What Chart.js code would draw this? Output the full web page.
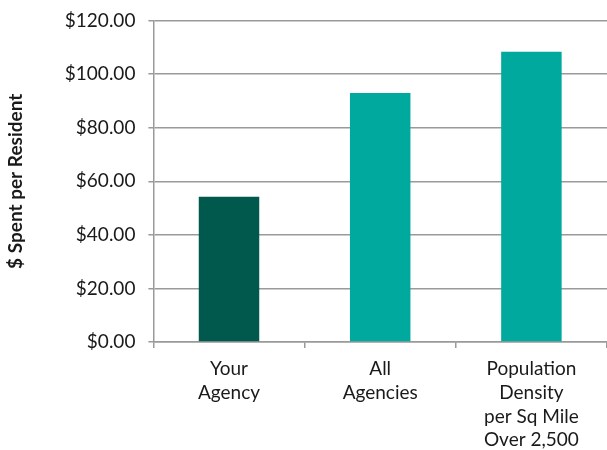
<!DOCTYPE html>
<html><head><meta charset="utf-8">
<script src="https://cdn.jsdelivr.net/npm/chart.js@4"></script>
<style>html,body{margin:0;padding:0;background:#fff}#wrap{width:607px;height:450px}</style>
</head><body><div id="wrap"><canvas id="c" width="607" height="450"></canvas></div>
<script>
const categories = [["Your","Agency"],["All","Agencies"],["Population","Density","per Sq Mile","Over 2,500"]];
const values = [54.2, 93.0, 108.4];
const barColors = ["#00594C", "#00A99D", "#00A99D"];
const yTitle = "$ Spent per Resident";
const FONT = "Lato, 'Open Sans', sans-serif";
new Chart(document.getElementById('c'), {
  type: 'bar',
  data: { labels: categories, datasets: [{ data: values, backgroundColor: barColors, barPercentage: 0.4, categoryPercentage: 1.0 }] },
  options: {
    responsive: false, animation: false,
    layout: { padding: { top: 0, right: 0, left: 0, bottom: -11 } },
    plugins: { legend: { display: false }, tooltip: { enabled: false } },
    scales: {
      x: {
        grid: { display: true, drawOnChartArea: false, offset: true, color: '#9a9a9a', lineWidth: 1.5, tickLength: 6 },
        border: { color: '#9a9a9a', width: 1.5 },
        ticks: { color: '#1a1a1a', font: { family: FONT, size: 19, lineHeight: 1.25 }, maxRotation: 0, padding: 9 }
      },
      y: {
        min: 0, max: 120,
        ticks: { stepSize: 20, color: '#1a1a1a', font: { family: FONT, size: 19, lineHeight: 0.8 }, padding: 13,
          callback: v => '$' + Number(v).toFixed(2) },
        grid: { color: '#9a9a9a', lineWidth: 1.5, tickLength: 5 },
        border: { color: '#9a9a9a', width: 1.5 },
        title: { display: true, text: yTitle, color: '#1a1a1a', font: { family: FONT, size: 19, weight: 'bold' }, padding: { top: 4, bottom: 25 } }
      }
    }
  }
});
</script></body></html>
